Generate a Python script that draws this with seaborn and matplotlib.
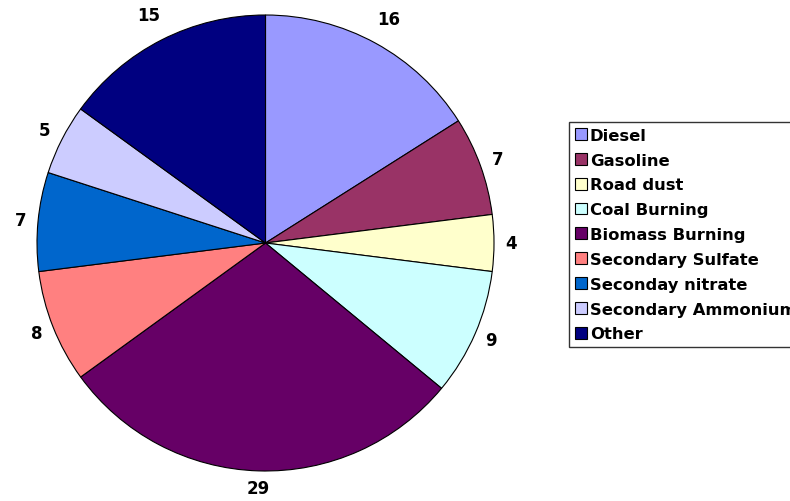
import matplotlib
matplotlib.use("Agg")
import matplotlib.pyplot as plt
import numpy as np
import seaborn as sns

sources = ["Diesel", "Gasoline", "Road dust", "Coal Burning", "Biomass Burning",
           "Secondary Sulfate", "Seconday nitrate", "Secondary Ammonium", "Other"]
shares = [16, 7, 4, 9, 29, 8, 7, 5, 15]
colors = ["#9999FF", "#993366", "#FFFFCC", "#CCFFFF", "#660066",
          "#FF8080", "#0066CC", "#CCCCFF", "#000080"]

sns.set_theme(style="white")
plt.rcParams["font.family"] = ["DejaVu Sans"]
plt.rcParams["text.color"] = "black"

fig = plt.figure(figsize=(7.9, 5.02), dpi=100)
ax = fig.add_axes([37 / 790, 30 / 502, 457 / 790, 456 / 502])

wedges, texts = ax.pie(
    shares,
    labels=[str(v) for v in shares],
    colors=colors,
    startangle=90,
    counterclock=False,
    labeldistance=1.1,
    wedgeprops=dict(edgecolor="black", linewidth=0.8),
    textprops=dict(fontsize=12, fontweight="bold", color="black"),
)
# keep value labels just outside the rim; upper labels sit a little further out
for w, t in zip(wedges, texts):
    ang = np.deg2rad((w.theta1 + w.theta2) / 2)
    r = 1.075 + 0.06 * max(0.0, np.sin(ang)) ** 2
    t.set_position((r * np.cos(ang), r * np.sin(ang)))
    t.set_ha("center")
    t.set_va("center")
ax.set_xlim(-1, 1)
ax.set_ylim(-1, 1)
ax.set_aspect("auto")
ax.axis("off")

leg = fig.legend(
    wedges, sources,
    loc="upper left",
    bbox_to_anchor=(569 / 790, 1 - 123 / 502),
    frameon=True, fancybox=False, shadow=False,
    prop=dict(size=11.8, weight="bold"),
    labelcolor="black",
    handlelength=0.72, handleheight=0.72,
    handletextpad=0.2, labelspacing=0.6,
    borderpad=0.35, borderaxespad=0,
)
leg.get_frame().set_edgecolor("black")
leg.get_frame().set_linewidth(1.0)

fig.savefig("out.png", dpi=100)
